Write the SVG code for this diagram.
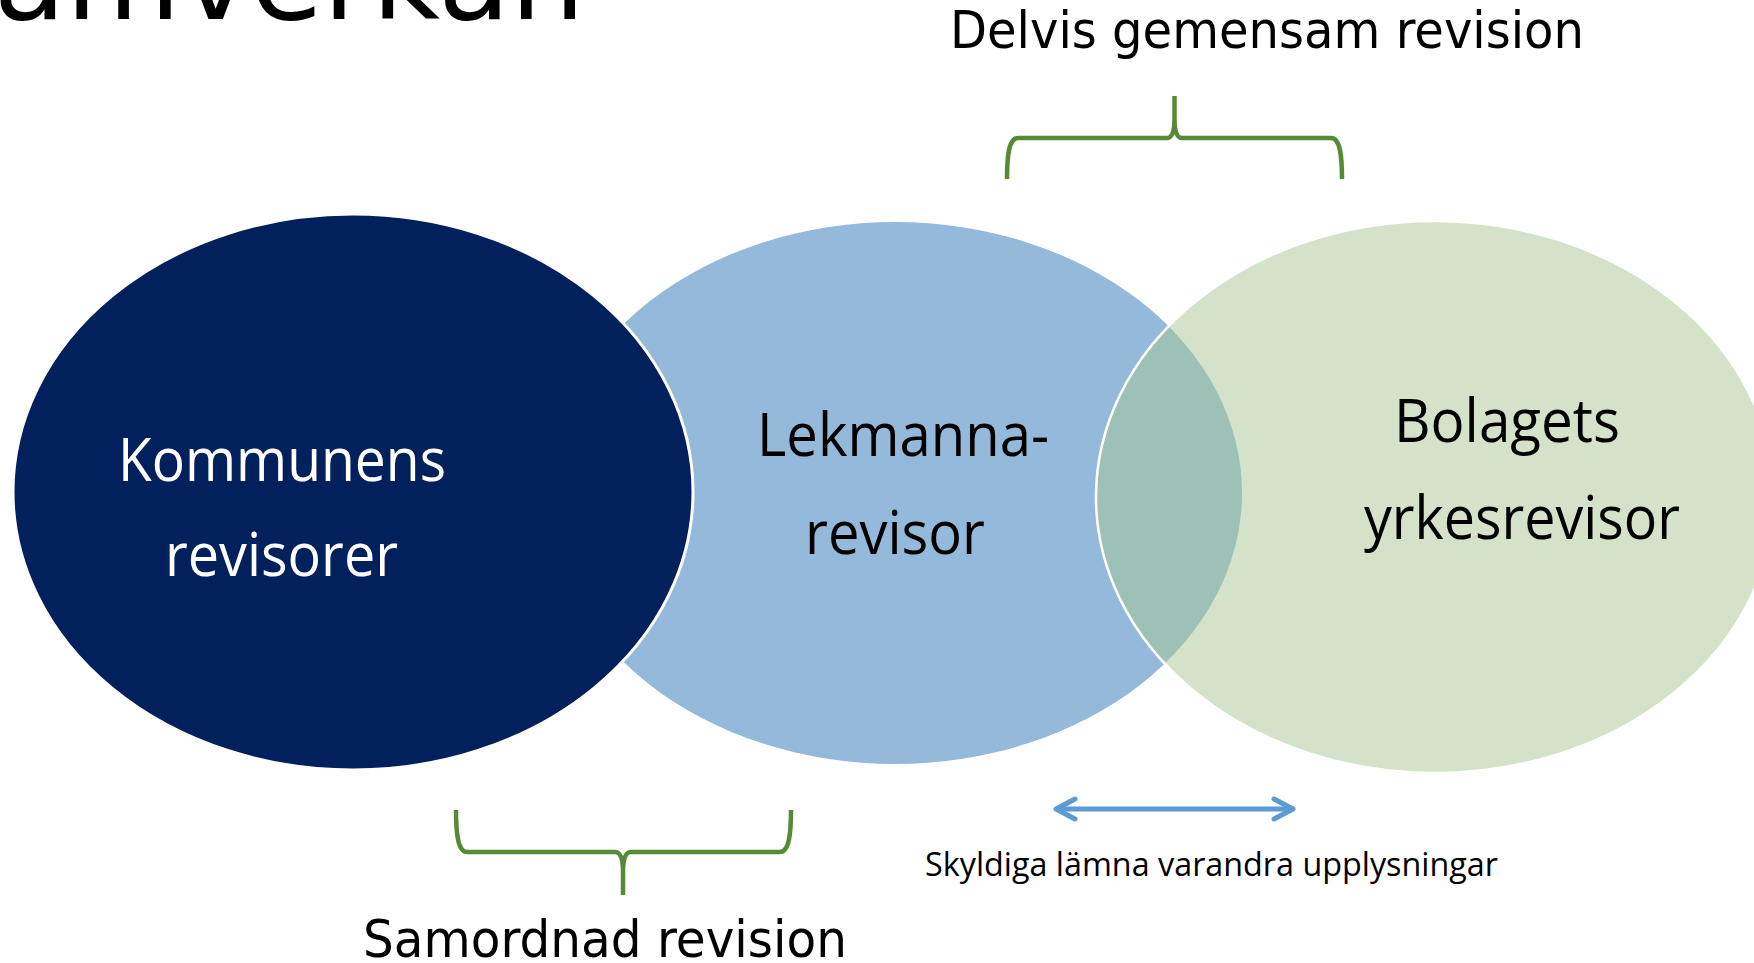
<svg xmlns="http://www.w3.org/2000/svg" width="1754" height="963" viewBox="0 0 1754 963">
  <style>
    .lbl { font-family: "Open Sans", "Liberation Sans", sans-serif; font-size: 60px; fill: #000; }
    .wht { fill: #fff; }
    .cap { font-family: "DejaVu Sans", "Verdana", sans-serif; font-size: 52px; fill: #000; }
    .small { font-family: "Open Sans", "Liberation Sans", sans-serif; font-size: 33px; fill: #000; }
    .title { font-family: "DejaVu Sans", sans-serif; font-size: 118px; fill: #000; }
    .brace { fill: none; stroke: #568A35; stroke-width: 4.5; stroke-linecap: butt; stroke-linejoin: round; }
    .arrow { fill: none; stroke: #5B9BD5; stroke-width: 5; }
  </style>
  <defs>
    <clipPath id="blueClip">
      <ellipse cx="895" cy="493" rx="347" ry="271"/>
    </clipPath>
    <marker id="chev" viewBox="0 0 26 28" refX="23" refY="14" markerWidth="26" markerHeight="28" markerUnits="userSpaceOnUse" orient="auto-start-reverse">
      <path d="M 4 4 L 23 14 L 4 24" fill="none" stroke="#5B9BD5" stroke-width="5" stroke-linecap="round" stroke-linejoin="round"/>
    </marker>
  </defs>
  <rect width="1754" height="963" fill="#fff"/>

  <text class="title" x="585" y="19" text-anchor="end">Samverkan</text>

  <g id="node-lekmanna">
    <ellipse cx="895" cy="493" rx="347" ry="271" fill="#95B9DB"/>
  </g>
  <g id="node-bolagets">
    <ellipse cx="1435" cy="497" rx="339" ry="276" fill="#D3E2C9"/>
    <ellipse cx="1435" cy="497" rx="339" ry="276" fill="#9DC1B7" clip-path="url(#blueClip)"/>
    <ellipse cx="1435" cy="497" rx="339" ry="276" fill="none" stroke="#fff" stroke-width="2.5"/>
  </g>
  <g id="node-kommunens">
    <ellipse cx="353" cy="492" rx="340" ry="278" fill="#02205C" stroke="#fff" stroke-width="3"/>
    <text class="lbl wht" x="118" y="481" textLength="328" lengthAdjust="spacingAndGlyphs">Kommunens</text>
    <text class="lbl wht" x="165" y="576" textLength="233" lengthAdjust="spacingAndGlyphs">revisorer</text>
  </g>
  <g id="labels-lekmanna">
    <text class="lbl" x="757" y="456" textLength="292" lengthAdjust="spacingAndGlyphs">Lekmanna-</text>
    <text class="lbl" x="805" y="554" textLength="180" lengthAdjust="spacingAndGlyphs">revisor</text>
  </g>
  <g id="labels-bolagets">
    <text class="lbl" x="1394" y="442" textLength="226" lengthAdjust="spacingAndGlyphs">Bolagets</text>
    <text class="lbl" x="1364" y="539" textLength="316" lengthAdjust="spacingAndGlyphs">yrkesrevisor</text>
  </g>

  <g id="connectors">
    <path class="brace" d="M1007,179 C1007,155 1009,138 1018,138 L1167,138 C1172,138 1174.5,132 1174.5,118 L1174.5,96 M1174.5,118 C1174.5,132 1177,138 1182,138 L1331,138 C1340,138 1342,155 1342,179"/>
    <path class="brace" d="M456,810 C456,834 458,852 467,852 L615,852 C620,852 623,858 623,872 L623,895 M623,872 C623,858 626,852 631,852 L780,852 C789,852 791,834 791,810"/>
    <line class="arrow" x1="1056" y1="809" x2="1293" y2="809" marker-start="url(#chev)" marker-end="url(#chev)"/>
  </g>

  <g id="captions">
    <text class="cap" x="950" y="48" textLength="634" lengthAdjust="spacingAndGlyphs">Delvis gemensam revision</text>
    <text class="cap" x="363" y="957" textLength="484" lengthAdjust="spacingAndGlyphs">Samordnad revision</text>
    <text class="small" x="925" y="876" textLength="573" lengthAdjust="spacingAndGlyphs">Skyldiga lämna varandra upplysningar</text>
  </g>
</svg>
